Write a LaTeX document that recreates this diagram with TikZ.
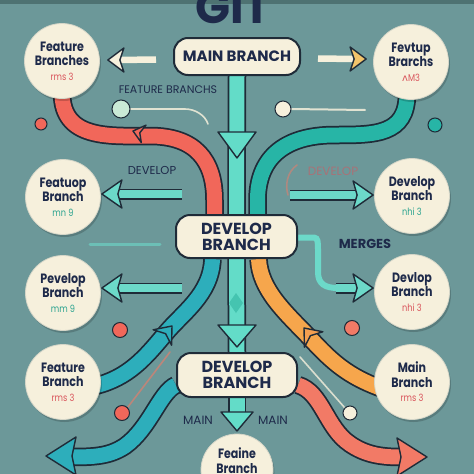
\documentclass[tikz,border=0pt]{standalone}
\usepackage{fontspec}
\setmainfont{Poppins}
\newfontfamily\dejavu{DejaVu Sans}
\newfontfamily\circfont{Poppins}[FakeStretch=0.82]
\usetikzlibrary{calc,arrows.meta}
\definecolor{bgc}{HTML}{6C9899}
\definecolor{topstrip}{HTML}{4E7272}
\definecolor{cream}{HTML}{F6F0DC}
\definecolor{ol}{HTML}{1F2B38}
\definecolor{navy}{HTML}{1E2A4A}
\definecolor{aqua}{HTML}{63DCC8}
\definecolor{aquadark}{HTML}{45C4B0}
\definecolor{redb}{HTML}{F1675A}
\definecolor{tealb}{HTML}{27B5A6}
\definecolor{orangeb}{HTML}{F6A64C}
\definecolor{salmonb}{HTML}{F27A66}
\definecolor{blueb}{HTML}{2DAEBB}
\definecolor{arrowaq}{HTML}{6CD9C9}
\definecolor{codered}{HTML}{D9545B}
\definecolor{codeteal}{HTML}{2BA38F}
\definecolor{yellowh}{HTML}{F2C46B}
\definecolor{rim}{HTML}{D5D6C8}
\pgfdeclarelayer{bglayer}
\pgfdeclarelayer{midlayer}
\pgfsetlayers{bglayer,midlayer,main}
% #1 fill, #2 tip, #3 angle, #4 length, #5 half width, #6 notch depth
\newcommand\arrhead[6]{\filldraw[fill=#1,draw=ol,line width=1.4pt,line join=round,shift={#2},rotate=#3] (0,0) -- (-#4,#5) -- (-#6,0) -- (-#4,-#5) -- cycle;}
\newcommand\codetxt[2]{{\mdseries\fontsize{10}{11}\selectfont\color{#1}#2}}
\begin{document}
\begin{tikzpicture}[x=1pt,y=-1pt,
  band/.style={draw=ol,line width=18.5pt,line cap=butt,postaction={draw=#1,line width=15pt}},
  aband/.style={draw=ol,line width=11pt,line cap=butt,postaction={draw=arrowaq,line width=8pt}},
  circ/.style={circle,fill=cream,draw=rim,line width=0.8pt,minimum size=75pt,inner sep=0pt,
    align=center,text=navy,font=\circfont\bfseries\fontsize{13.5}{14.5}\selectfont,
    preaction={fill=black,fill opacity=.18,transform canvas={xshift=1.5pt,yshift=-2.5pt}}},
  boxn/.style={rounded corners=14pt,fill=cream,draw=ol,line width=2pt,align=center,text=navy,
    font=\bfseries\fontsize{16}{16}\selectfont,inner sep=0pt},
  lbl/.style={text=navy,font=\fontsize{11}{12}\selectfont,inner sep=0pt},
  dot/.style={circle,draw=ol,line width=1pt,inner sep=0pt,minimum size=#1},
  faint/.style={line width=1.6pt,line cap=round}
]
\begin{pgfonlayer}{bglayer}
\fill[bgc] (0,0) rectangle (474,474);
\fill[topstrip] (0,0) rectangle (474,3.5);
\end{pgfonlayer}
\useasboundingbox (0,0) rectangle (474,474);

% title
\node[text=navy,font=\bfseries\fontsize{46}{46}\selectfont,anchor=base,inner sep=0pt] (git) at (233,23) {GIT};

% boxes
\node[boxn,font=\bfseries\fontsize{15}{15}\selectfont,minimum width=126pt,minimum height=37pt] (main) at (237,56.5) {MAIN BRANCH};
\node[boxn,minimum width=121pt,minimum height=43pt] (dev1) at (236.5,236.5) {DEVELOP\\BRANCH};
\node[boxn,minimum width=120pt,minimum height=44pt] (dev2) at (237,375) {DEVELOP\\BRANCH};

% circles
\node[circ] (c1) at (62,61) {Feature\\Branches\\\codetxt{codered}{rms 3}};
\node[circ] (c2) at (411,62) {Fevtup\\Brarchs\\\codetxt{codered}{{\dejavu ʌ}M3}};
\node[circ] (c3) at (63,197) {Featuop\\Branch\\\codetxt{codeteal}{mn 9}};
\node[circ] (c4) at (412,196) {Develop\\Branch\\\codetxt{codeteal}{nhi 3}};
\node[circ] (c5) at (63,293) {Pevelop\\Branch\\\codetxt{codeteal}{mm 9}};
\node[circ] (c6) at (412,292) {Devlop\\Branch\\\codetxt{codered}{nhi 3}};
\node[circ] (c7) at (63,382) {Feature\\Branch\\\codetxt{codered}{rms 3}};
\node[circ] (c8) at (412,382) {Main\\Branch\\\codetxt{codered}{rms 3}};
\node[circ,minimum size=72pt] (c9) at (237,470) {Feaine\\Branch\\\strut};

% labels
\node[lbl] (l1) at (168,90) {FEATURE BRANCHS};
\node[lbl,font=\fontsize{11.5}{12}\selectfont] (l2) at (152,170) {DEVELOP};
\node[lbl,text=codered!55!bgc,font=\fontsize{12}{12}\selectfont] (l3) at (333,171) {DEVELOP};
\node[lbl,font=\bfseries\fontsize{13}{13}\selectfont] (l4) at (365,244) {MERGES};
\node[lbl,font=\fontsize{12}{12}\selectfont] (l5) at (198,420) {MAIN};
\node[lbl,font=\fontsize{12}{12}\selectfont] (l6) at (273,420) {MAIN};

% dots
\node[dot=12pt,fill=redb] (d1) at (41,124) {};
\node[dot=14pt,fill=tealb] (d2) at (435,125) {};
\node[dot=18pt,fill=cream!70!aqua] (d3) at (121,109) {};
\node[dot=16pt,fill=cream] (d4) at (283,109) {};
\node[dot=15pt,fill=redb] (d5) at (120,330) {};
\node[dot=15pt,fill=redb] (d6) at (122,413) {};
\node[dot=15pt,fill=salmonb] (d7) at (352,328) {};
\node[dot=14pt,fill=cream] (d8) at (350,413) {};

\begin{pgfonlayer}{midlayer}
% faint lines
\draw[faint,cream!85!bgc] (d3.east) -- (185,109) .. controls (195,109) and (205,115) .. (208,124);
\draw[faint,cream!85!bgc,line width=2pt] (d4.east) -- (365,110);
\draw[faint,arrowaq!60!bgc,line width=3pt] (90,244) -- (160,244);
\draw[faint,salmonb!60!bgc] (d6.north east) -- (170,352);
\draw[faint,cream!80!bgc] (d8.north west) -- (300,357);
\draw[faint,salmonb!50!bgc] (297,165) .. controls (287,172) and (285,185) .. (288,195);

% trunk
\draw[band=aqua] (main.south) -- (dev1.north);
\draw[band=aqua] (dev1.south) -- (dev2.north);
\draw[band=aqua] (dev2.south) -- (237,420);
\arrhead{aqua}{(237,158)}{-90}{26}{19}{26}
\arrhead{aqua}{(237,347)}{-90}{22}{19}{22}
\arrhead{aqua}{(237,431)}{-90}{19}{16}{19}
\fill[aquadark] (236,293) -- (243,303) -- (236,313) -- (229,303) -- cycle;

% red band
\draw[band=redb] ($(c1.south)+(0,-6)$) .. controls (62,140) and (110,136) .. (150,136)
  .. controls (195,136) and (214.5,160) .. (214.5,200) -- ([xshift=-22pt]dev1.north);
\arrhead{redb}{(133,131)}{165}{11}{9}{7}
% teal band
\draw[band=tealb] ($(c2.south)+(-4,-6)$) .. controls (407,135) and (375,135) .. (335,135)
  .. controls (282,135) and (257.5,160) .. (257.5,200) -- ([xshift=21pt]dev1.north);
% blue upper band
\draw[band=blueb] ([xshift=-24pt]dev1.south) .. controls (211,295) and (182,313) .. (165,334)
  .. controls (145,358) and (128,378) .. ($(c7.east)+(-6,4)$);
\arrhead{blueb}{(172,326)}{50}{15}{12}{10}
% orange band
\draw[band=orangeb] ([xshift=22pt]dev1.south) .. controls (260,290) and (285,312) .. (310,338)
  .. controls (332,362) and (348,376) .. ($(c8.west)+(6,6)$);
\arrhead{orangeb!85!salmonb}{(304,328)}{130}{15}{12}{10}
% salmon band
\coordinate (sarr) at (427,457);
\draw[band=salmonb] ([yshift=-10pt]dev2.east) .. controls (322,392) and (326,428) .. (350,444)
  .. controls (366,455) and (382,457) .. (401,457);
\arrhead{salmonb}{(sarr)}{0}{30}{19}{26}
% blue lower band
\coordinate (barr) at (46,456);
\draw[band=blueb] ([yshift=-10pt]dev2.west) .. controls (160,392) and (150,428) .. (125,446)
  .. controls (110,456) and (95,457) .. (72,457);
\arrhead{blueb}{(barr)}{180}{30}{19}{26}

% cream arrows from main
\draw[cream,line width=6.5pt] ($(main.west)+(-17,3)$) -- (118,60);
\arrhead{cream}{($(c1.east)+(8,-1)$)}{180}{16}{12}{12}
\draw[cream,line width=6.5pt] ($(main.east)+(17,2)$) -- (355,59);
\arrhead{yellowh}{($(c2.west)+(-7,-3)$)}{0}{16}{12}{12}

% aqua arrows
\coordinate (a3) at ($(c3.east)+(1,-3)$);
\draw[aband] (182,194) -- ($(a3)+(15,0)$);
\arrhead{arrowaq}{(a3)}{180}{20}{14}{16}
\coordinate (a4) at ($(c4.west)+(-1,-1)$);
\draw[aband] (290,195) -- ($(a4)+(-15,0)$);
\arrhead{arrowaq}{(a4)}{0}{20}{14}{16}
\coordinate (a5) at ($(c5.east)+(1,-5)$);
\draw[aband] (182,288) -- ($(a5)+(15,0)$);
\arrhead{arrowaq}{(a5)}{180}{20}{14}{16}
\coordinate (a6) at ($(c6.west)+(-1,-4)$);
\draw[arrowaq,line width=6pt] ([yshift=-1pt]dev1.east) -- (314,237.5) .. controls (318,238) and (318,242) .. (318,250) -- (318,272)
  .. controls (318,284) and (325,288) .. (338,288);
\draw[aband] (336,288) -- ($(a6)+(-15,0)$);
\arrhead{arrowaq}{(a6)}{0}{20}{14}{16}
\end{pgfonlayer}
\end{tikzpicture}
\end{document}
